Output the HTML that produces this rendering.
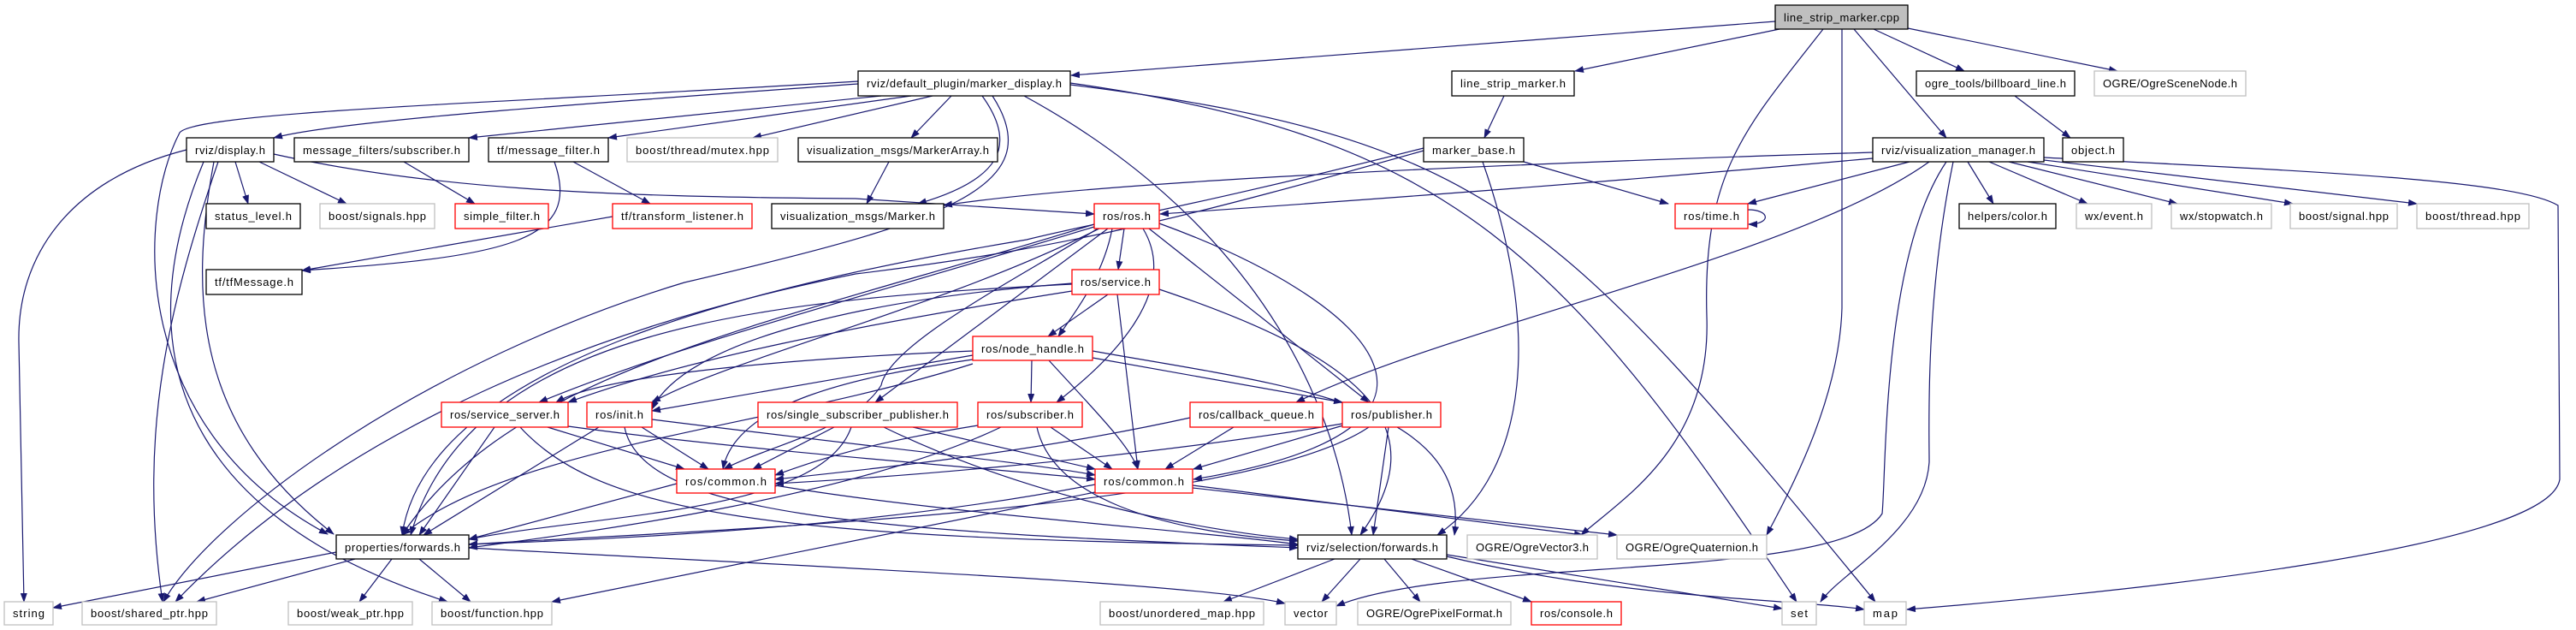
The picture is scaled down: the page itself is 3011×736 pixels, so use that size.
<!DOCTYPE html>
<html><head><meta charset="utf-8"><style>
html,body{margin:0;padding:0;background:#fff;}
svg{display:block;}
text{font-family:"Liberation Sans",sans-serif;font-size:13px;fill:#000;}
.b{fill:#fff;stroke:#000;stroke-width:1.3;}
.g{fill:#fff;stroke:#bfbfbf;stroke-width:1.3;}
.r{fill:#fff;stroke:#ff0000;stroke-width:1.3;}
path.e{fill:none;stroke:#191970;stroke-width:1.2;}
</style></head><body>
<svg width="3011" height="736" viewBox="0 0 3011 736" xmlns="http://www.w3.org/2000/svg">
<defs><marker id="a" markerWidth="11" markerHeight="8" refX="10" refY="4" orient="auto" markerUnits="userSpaceOnUse"><path d="M0,0 L11,4 L0,8 z" fill="#191970"/></marker></defs>
<g marker-end="url(#a)">
<path class="e" d="M2075,25 L1252,88"/>
<path class="e" d="M2080,34 L1841,83"/>
<path class="e" d="M2190,34 L2296,83"/>
<path class="e" d="M2230,33 L2475,83"/>
<path class="e" d="M2167,34 L2275,161"/>
<path class="e" d="M2131,34 C2040,150 1990,200 1995,370 C2000,520 1900,580 1848,625"/>
<path class="e" d="M2153,34 L2153,360 C2150,460 2100,560 2065,625"/>
<path class="e" d="M1003,98 C700,120 400,140 320,161"/>
<path class="e" d="M1003,95 C600,120 230,130 210,155 C160,250 150,500 383,624"/>
<path class="e" d="M1030,112 L548,161"/>
<path class="e" d="M1065,112 L711,161"/>
<path class="e" d="M1090,112 L880,161"/>
<path class="e" d="M1112,112 L1065,161"/>
<path class="e" d="M1148,112 C1190,170 1170,210 1073,238"/>
<path class="e" d="M1160,112 C1230,220 1100,260 800,330 C500,420 250,600 191,703"/>
<path class="e" d="M1197,112 C1450,250 1560,450 1580,625"/>
<path class="e" d="M1251,97 C1700,160 1830,300 2100,703"/>
<path class="e" d="M1251,99 C1740,160 1820,250 2192,703"/>
<path class="e" d="M275,189 L290,238"/>
<path class="e" d="M303,189 L405,238"/>
<path class="e" d="M320,180 C500,220 700,230 1000,232 L1279,250"/>
<path class="e" d="M218,175 C80,210 20,300 22,400 L28,703"/>
<path class="e" d="M255,189 C200,350 160,500 190,703"/>
<path class="e" d="M250,189 C220,350 230,500 390,624"/>
<path class="e" d="M238,189 C150,400 200,600 523,703"/>
<path class="e" d="M472,189 L555,238"/>
<path class="e" d="M670,189 L760,238"/>
<path class="e" d="M648,189 C680,280 600,300 353,316"/>
<path class="e" d="M716,253 L353,316"/>
<path class="e" d="M1039,189 L1013,238"/>
<path class="e" d="M1758,112 L1735,161"/>
<path class="e" d="M2189,178 C1800,190 1300,210 1103,240"/>
<path class="e" d="M1664,173 C1400,240 1280,260 1200,280 C900,330 500,420 470,625"/>
<path class="e" d="M1664,176 C1400,250 1250,290 1000,320 C700,380 400,500 205,703"/>
<path class="e" d="M1781,189 L1950,238"/>
<path class="e" d="M1733,189 C1800,380 1790,550 1680,625"/>
<path class="e" d="M2355,112 L2420,161"/>
<path class="e" d="M2189,185 C1800,220 1500,240 1356,250"/>
<path class="e" d="M2232,189 L2043,238"/>
<path class="e" d="M2255,189 C2100,300 1700,380 1515,470"/>
<path class="e" d="M2275,189 C2200,300 2205,550 2200,600 C2150,680 1700,650 1562,708"/>
<path class="e" d="M2283,189 C2250,350 2255,500 2255,540 C2250,620 2150,670 2128,703"/>
<path class="e" d="M2300,189 L2330,238"/>
<path class="e" d="M2325,189 L2440,238"/>
<path class="e" d="M2348,189 L2545,238"/>
<path class="e" d="M2370,189 L2680,238"/>
<path class="e" d="M2389,187 L2825,238"/>
<path class="e" d="M2389,184 C2700,200 2940,210 2990,240 L2992,560 C2980,640 2500,690 2229,712"/>
<path class="e" d="M2043,245 C2070,245 2070,262 2044,262"/>
<path class="e" d="M1314,267 L1307,315"/>
<path class="e" d="M1300,267 C1290,320 1260,360 1237,393"/>
<path class="e" d="M1279,265 C1000,350 800,400 630,470"/>
<path class="e" d="M1285,267 C1100,360 850,420 762,470"/>
<path class="e" d="M1295,267 L1023,470"/>
<path class="e" d="M1336,267 C1380,340 1300,420 1235,470"/>
<path class="e" d="M1343,267 L1600,470"/>
<path class="e" d="M1355,261 C1600,350 1760,500 1395,560"/>
<path class="e" d="M1283,267 C1200,320 1040,400 1030,450 C1000,500 900,520 846,548"/>
<path class="e" d="M1279,262 C900,380 600,430 470,625"/>
<path class="e" d="M1295,344 L1225,393"/>
<path class="e" d="M1253,340 C1000,380 800,420 664,470"/>
<path class="e" d="M1253,331 C1000,350 800,400 762,478"/>
<path class="e" d="M1306,344 L1330,548"/>
<path class="e" d="M1355,338 C1600,420 1680,500 1590,625"/>
<path class="e" d="M1253,332 C900,350 550,380 480,625"/>
<path class="e" d="M1137,410 C900,420 700,440 650,470"/>
<path class="e" d="M1137,415 L762,480"/>
<path class="e" d="M1206,421 L1205,470"/>
<path class="e" d="M1277,418 L1569,470"/>
<path class="e" d="M1137,420 C1000,440 860,470 845,548"/>
<path class="e" d="M1226,421 C1280,480 1320,520 1330,548"/>
<path class="e" d="M1277,410 C1500,450 1720,470 1700,625"/>
<path class="e" d="M1137,425 C900,500 600,520 470,625"/>
<path class="e" d="M578,499 L490,625"/>
<path class="e" d="M640,499 L800,548"/>
<path class="e" d="M608,499 C700,600 900,630 1517,637"/>
<path class="e" d="M664,498 C900,530 1200,550 1280,560"/>
<path class="e" d="M700,499 L495,625"/>
<path class="e" d="M750,499 L828,548"/>
<path class="e" d="M730,499 C750,600 1000,620 1517,640"/>
<path class="e" d="M762,490 C1000,520 1200,540 1280,555"/>
<path class="e" d="M975,499 L880,548"/>
<path class="e" d="M995,499 C960,600 700,600 548,630"/>
<path class="e" d="M1033,499 C1200,580 1400,620 1517,630"/>
<path class="e" d="M1067,499 L1280,548"/>
<path class="e" d="M1143,497 C1000,520 950,540 906,555"/>
<path class="e" d="M1228,499 L1300,548"/>
<path class="e" d="M1170,499 C1000,580 700,620 548,640"/>
<path class="e" d="M1212,499 C1230,580 1350,620 1517,632"/>
<path class="e" d="M1442,499 L1362,548"/>
<path class="e" d="M1391,488 C1200,530 1000,550 906,560"/>
<path class="e" d="M1570,497 L1395,548"/>
<path class="e" d="M1623,499 L1605,625"/>
<path class="e" d="M1569,495 C1300,540 1000,560 906,565"/>
<path class="e" d="M1600,499 C1450,600 800,620 548,636"/>
<path class="e" d="M791,565 L548,630"/>
<path class="e" d="M906,567 C1100,600 1400,620 1517,636"/>
<path class="e" d="M1280,566 C1000,620 700,630 548,636"/>
<path class="e" d="M1394,567 L1850,625"/>
<path class="e" d="M1394,570 L1890,625"/>
<path class="e" d="M1280,575 L645,703"/>
<path class="e" d="M393,645 L62,710"/>
<path class="e" d="M415,653 L230,703"/>
<path class="e" d="M458,653 L420,703"/>
<path class="e" d="M490,653 L550,703"/>
<path class="e" d="M548,640 C900,660 1400,680 1502,705"/>
<path class="e" d="M1560,653 L1430,703"/>
<path class="e" d="M1590,653 L1545,703"/>
<path class="e" d="M1618,653 L1660,703"/>
<path class="e" d="M1650,653 L1790,703"/>
<path class="e" d="M1691,648 L2083,711"/>
<path class="e" d="M1691,650 C1900,700 2100,700 2179,712"/>
</g>
<g>
<rect x="2075" y="6" width="155" height="28" fill="#bfbfbf" stroke="#000" stroke-width="1.3"/><text x="2085" y="25" textLength="135">line_strip_marker.cpp</text>
<rect class="b" x="1003" y="83" width="248" height="29"/><text x="1013" y="102" textLength="228">rviz/default_plugin/marker_display.h</text>
<rect class="b" x="1697" y="83" width="143" height="29"/><text x="1707" y="102" textLength="123">line_strip_marker.h</text>
<rect class="b" x="2240" y="83" width="185" height="29"/><text x="2250" y="102" textLength="165">ogre_tools/billboard_line.h</text>
<rect class="g" x="2448" y="83" width="177" height="29"/><text x="2458" y="102" textLength="157">OGRE/OgreSceneNode.h</text>
<rect class="b" x="218" y="161" width="102" height="28"/><text x="228" y="180" textLength="82">rviz/display.h</text>
<rect class="b" x="344" y="161" width="204" height="28"/><text x="354" y="180" textLength="184">message_filters/subscriber.h</text>
<rect class="b" x="571" y="161" width="140" height="28"/><text x="581" y="180" textLength="120">tf/message_filter.h</text>
<rect class="g" x="733" y="161" width="176" height="28"/><text x="743" y="180" textLength="156">boost/thread/mutex.hpp</text>
<rect class="b" x="933" y="161" width="233" height="28"/><text x="943" y="180" textLength="213">visualization_msgs/MarkerArray.h</text>
<rect class="b" x="1664" y="161" width="117" height="28"/><text x="1674" y="180" textLength="97">marker_base.h</text>
<rect class="b" x="2189" y="161" width="200" height="28"/><text x="2199" y="180" textLength="180">rviz/visualization_manager.h</text>
<rect class="b" x="2411" y="161" width="71" height="28"/><text x="2421" y="180" textLength="51">object.h</text>
<rect class="b" x="241" y="238" width="110" height="29"/><text x="251" y="257" textLength="90">status_level.h</text>
<rect class="g" x="374" y="238" width="134" height="29"/><text x="384" y="257" textLength="114">boost/signals.hpp</text>
<rect class="r" x="532" y="238" width="109" height="29"/><text x="542" y="257" textLength="89">simple_filter.h</text>
<rect class="r" x="716" y="238" width="163" height="29"/><text x="726" y="257" textLength="143">tf/transform_listener.h</text>
<rect class="b" x="902" y="238" width="201" height="29"/><text x="912" y="257" textLength="181">visualization_msgs/Marker.h</text>
<rect class="r" x="1279" y="238" width="76" height="29"/><text x="1289" y="257" textLength="56">ros/ros.h</text>
<rect class="r" x="1958" y="238" width="85" height="29"/><text x="1968" y="257" textLength="65">ros/time.h</text>
<rect class="b" x="2290" y="238" width="113" height="29"/><text x="2300" y="257" textLength="93">helpers/color.h</text>
<rect class="g" x="2427" y="238" width="88" height="29"/><text x="2437" y="257" textLength="68">wx/event.h</text>
<rect class="g" x="2538" y="238" width="117" height="29"/><text x="2548" y="257" textLength="97">wx/stopwatch.h</text>
<rect class="g" x="2677" y="238" width="125" height="29"/><text x="2687" y="257" textLength="105">boost/signal.hpp</text>
<rect class="g" x="2825" y="238" width="131" height="29"/><text x="2835" y="257" textLength="111">boost/thread.hpp</text>
<rect class="b" x="241" y="315" width="112" height="29"/><text x="251" y="334" textLength="92">tf/tfMessage.h</text>
<rect class="r" x="1253" y="315" width="102" height="29"/><text x="1263" y="334" textLength="82">ros/service.h</text>
<rect class="r" x="1137" y="393" width="140" height="28"/><text x="1147" y="412" textLength="120">ros/node_handle.h</text>
<rect class="r" x="516" y="470" width="148" height="29"/><text x="526" y="489" textLength="128">ros/service_server.h</text>
<rect class="r" x="686" y="470" width="76" height="29"/><text x="696" y="489" textLength="56">ros/init.h</text>
<rect class="r" x="886" y="470" width="233" height="29"/><text x="896" y="489" textLength="213">ros/single_subscriber_publisher.h</text>
<rect class="r" x="1143" y="470" width="122" height="29"/><text x="1153" y="489" textLength="102">ros/subscriber.h</text>
<rect class="r" x="1391" y="470" width="155" height="29"/><text x="1401" y="489" textLength="135">ros/callback_queue.h</text>
<rect class="r" x="1569" y="470" width="115" height="29"/><text x="1579" y="489" textLength="95">ros/publisher.h</text>
<rect class="r" x="791" y="548" width="115" height="28"/><text x="801" y="567" textLength="95">ros/common.h</text>
<rect class="r" x="1280" y="548" width="114" height="28"/><text x="1290" y="567" textLength="94">ros/common.h</text>
<rect class="b" x="393" y="625" width="155" height="28"/><text x="403" y="644" textLength="135">properties/forwards.h</text>
<rect class="b" x="1517" y="625" width="174" height="28"/><text x="1527" y="644" textLength="154">rviz/selection/forwards.h</text>
<rect class="g" x="1715" y="625" width="152" height="28"/><text x="1725" y="644" textLength="132">OGRE/OgreVector3.h</text>
<rect class="g" x="1890" y="625" width="175" height="28"/><text x="1900" y="644" textLength="155">OGRE/OgreQuaternion.h</text>
<rect class="g" x="5" y="703" width="57" height="27"/><text x="15" y="721" textLength="37">string</text>
<rect class="g" x="96" y="703" width="157" height="27"/><text x="106" y="721" textLength="137">boost/shared_ptr.hpp</text>
<rect class="g" x="337" y="703" width="145" height="27"/><text x="347" y="721" textLength="125">boost/weak_ptr.hpp</text>
<rect class="g" x="505" y="703" width="140" height="27"/><text x="515" y="721" textLength="120">boost/function.hpp</text>
<rect class="g" x="1286" y="703" width="191" height="27"/><text x="1296" y="721" textLength="171">boost/unordered_map.hpp</text>
<rect class="g" x="1502" y="703" width="60" height="27"/><text x="1512" y="721" textLength="40">vector</text>
<rect class="g" x="1587" y="703" width="179" height="27"/><text x="1597" y="721" textLength="159">OGRE/OgrePixelFormat.h</text>
<rect class="r" x="1790" y="703" width="105" height="27"/><text x="1800" y="721" textLength="85">ros/console.h</text>
<rect class="g" x="2083" y="703" width="40" height="27"/><text x="2093" y="721" textLength="20">set</text>
<rect class="g" x="2179" y="703" width="49" height="27"/><text x="2189" y="721" textLength="29">map</text>
</g>
</svg>
</body></html>
